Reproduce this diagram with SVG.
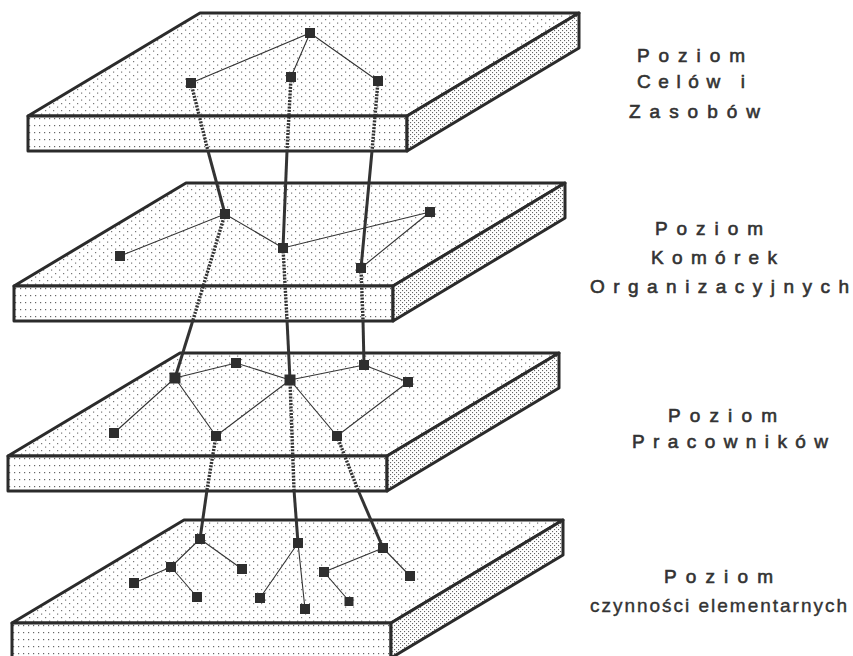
<svg xmlns="http://www.w3.org/2000/svg" width="853" height="656" viewBox="0 0 853 656">
<style>
.face{stroke:#2b2b2b;stroke-width:3;stroke-linejoin:round}
.edge{stroke:#333;stroke-width:1.1;fill:none}
.node{fill:#2e2e2e}
.conn-dot{stroke:#333;stroke-width:3.4;fill:none;stroke-dasharray:2 1.3}
.conn{stroke:#333;stroke-width:3;fill:none}
.lbl{font-family:"Liberation Sans",Arial,sans-serif;font-size:19px;font-weight:normal;fill:#333;stroke:#333;stroke-width:0.6}
.lbl2{font-family:"Liberation Sans",Arial,sans-serif;font-size:19px;fill:#333;stroke:#333;stroke-width:0.4}
</style>
<defs>
<pattern id="ptop" width="8" height="7" patternUnits="userSpaceOnUse">
<rect width="8" height="7" fill="#fff"/>
<rect x="1" y="1" width="1.2" height="1.2" fill="#777"/>
<rect x="5" y="4.5" width="1.2" height="1.2" fill="#777"/>
</pattern>
<pattern id="pfront" width="5" height="7" patternUnits="userSpaceOnUse">
<rect width="5" height="7" fill="#fff"/>
<rect x="1" y="2" width="1.2" height="1.2" fill="#666"/>
</pattern>
<pattern id="pside" width="4" height="4" patternUnits="userSpaceOnUse">
<rect width="4" height="4" fill="#fff"/>
<rect x="0" y="0" width="1.1" height="1.1" fill="#666"/>
<rect x="2" y="2" width="1.1" height="1.1" fill="#666"/>
</pattern>
<g id="plate">
<path class="face" d="M0,0 L172,-103 L551,-103 L379,0 Z" fill="url(#ptop)"/>
<rect class="face" x="0" y="0" width="379" height="35" fill="url(#pfront)"/>
<path class="face" d="M379,0 L551,-103 L551,-68 L379,35 Z" fill="url(#pside)"/>
</g>
</defs>

<g id="plate1"><use href="#plate" transform="translate(28,116)"/></g>
<g id="plate2"><use href="#plate" transform="translate(14,286)"/></g>
<g id="plate3"><use href="#plate" transform="translate(8,456)"/></g>
<g id="plate4"><use href="#plate" transform="translate(12,623)"/></g>

<g id="edges">
<path class="edge" d="M310,33 L191,83 M310,33 L291,77 M310,33 L378,81"/>
<path class="edge" d="M120,256 L225,214 L283,248 L430,212 L361,268"/>
<path class="edge" d="M175,378 L236,363 L290,380 L364,365 L408,382 M175,378 L114,433 M175,378 L216,436 L290,380 L337,436 L408,382"/>
<path class="edge" d="M200,539 L171,567 L134,583 M171,567 L197,597 M200,539 L242,569 M298,543 L260,598 M298,543 L305,609 M383,548 L324,572 L349,601 M383,548 L410,576"/>
</g>

<g id="connectors">
<path class="conn-dot" d="M191,83 L208,151"/>
<path class="conn" d="M208,151 L225,214"/>
<path class="conn-dot" d="M291,77 L287,151"/>
<path class="conn" d="M287,151 L283,248"/>
<path class="conn-dot" d="M378,81 L372,151"/>
<path class="conn" d="M372,151 L361,268"/>
<path class="conn-dot" d="M225,214 L193,320"/>
<path class="conn" d="M193,320 L175,378"/>
<path class="conn-dot" d="M283,248 L287,320"/>
<path class="conn" d="M287,320 L290,380"/>
<path class="conn-dot" d="M361,268 L363,320"/>
<path class="conn" d="M363,320 L364,365"/>
<path class="conn-dot" d="M216,436 L207,490"/>
<path class="conn" d="M207,490 L200,539"/>
<path class="conn-dot" d="M290,380 L294,490"/>
<path class="conn" d="M294,490 L298,543"/>
<path class="conn-dot" d="M337,436 L358,490"/>
<path class="conn" d="M358,490 L383,548"/>
</g>

<g id="nodes">
<rect class="node" x="305" y="28" width="10" height="10"/>
<rect class="node" x="186" y="78" width="10" height="10"/>
<rect class="node" x="286" y="72" width="10" height="10"/>
<rect class="node" x="373" y="76" width="10" height="10"/>

<rect class="node" x="220" y="209" width="10" height="10"/>
<rect class="node" x="278" y="243" width="10" height="10"/>
<rect class="node" x="356" y="263" width="10" height="10"/>
<rect class="node" x="115" y="251" width="10" height="10"/>
<rect class="node" x="425" y="207" width="10" height="10"/>

<rect class="node" x="169.5" y="372.5" width="11" height="11"/>
<rect class="node" x="231" y="358" width="10" height="10"/>
<rect class="node" x="284.5" y="374.5" width="11" height="11"/>
<rect class="node" x="359" y="360" width="10" height="10"/>
<rect class="node" x="403" y="377" width="10" height="10"/>
<rect class="node" x="109" y="428" width="10" height="10"/>
<rect class="node" x="211" y="431" width="10" height="10"/>
<rect class="node" x="332" y="431" width="10" height="10"/>

<rect class="node" x="195" y="534" width="10" height="10"/>
<rect class="node" x="166" y="562" width="10" height="10"/>
<rect class="node" x="129" y="578" width="10" height="10"/>
<rect class="node" x="192" y="592" width="10" height="10"/>
<rect class="node" x="237" y="564" width="10" height="10"/>
<rect class="node" x="293" y="538" width="10" height="10"/>
<rect class="node" x="255" y="593" width="10" height="10"/>
<rect class="node" x="300" y="604" width="10" height="10"/>
<rect class="node" x="378" y="543" width="10" height="10"/>
<rect class="node" x="319" y="567" width="10" height="10"/>
<rect class="node" x="405" y="571" width="10" height="10"/>
<rect class="node" x="344.5" y="597" width="9" height="9"/>
</g>

<g id="labels">
<text class="lbl" x="637" y="62" textLength="108" lengthAdjust="spacing">Poziom</text>
<text class="lbl" x="637" y="88" textLength="108" lengthAdjust="spacing">Celów i</text>
<text class="lbl" x="629" y="118" textLength="131" lengthAdjust="spacing">Zasobów</text>

<text class="lbl" x="655" y="235" textLength="108" lengthAdjust="spacing">Poziom</text>
<text class="lbl" x="651" y="264" textLength="126" lengthAdjust="spacing">Komórek</text>
<text class="lbl" x="590" y="293" textLength="259" lengthAdjust="spacing">Organizacyjnych</text>

<text class="lbl" x="668" y="422" textLength="109" lengthAdjust="spacing">Poziom</text>
<text class="lbl" x="632" y="448" textLength="196" lengthAdjust="spacing">Pracowników</text>

<text class="lbl" x="664" y="583" textLength="109" lengthAdjust="spacing">Poziom</text>
<text class="lbl2" x="590" y="612" textLength="257" lengthAdjust="spacing">czynności elementarnych</text>
</g>
</svg>
